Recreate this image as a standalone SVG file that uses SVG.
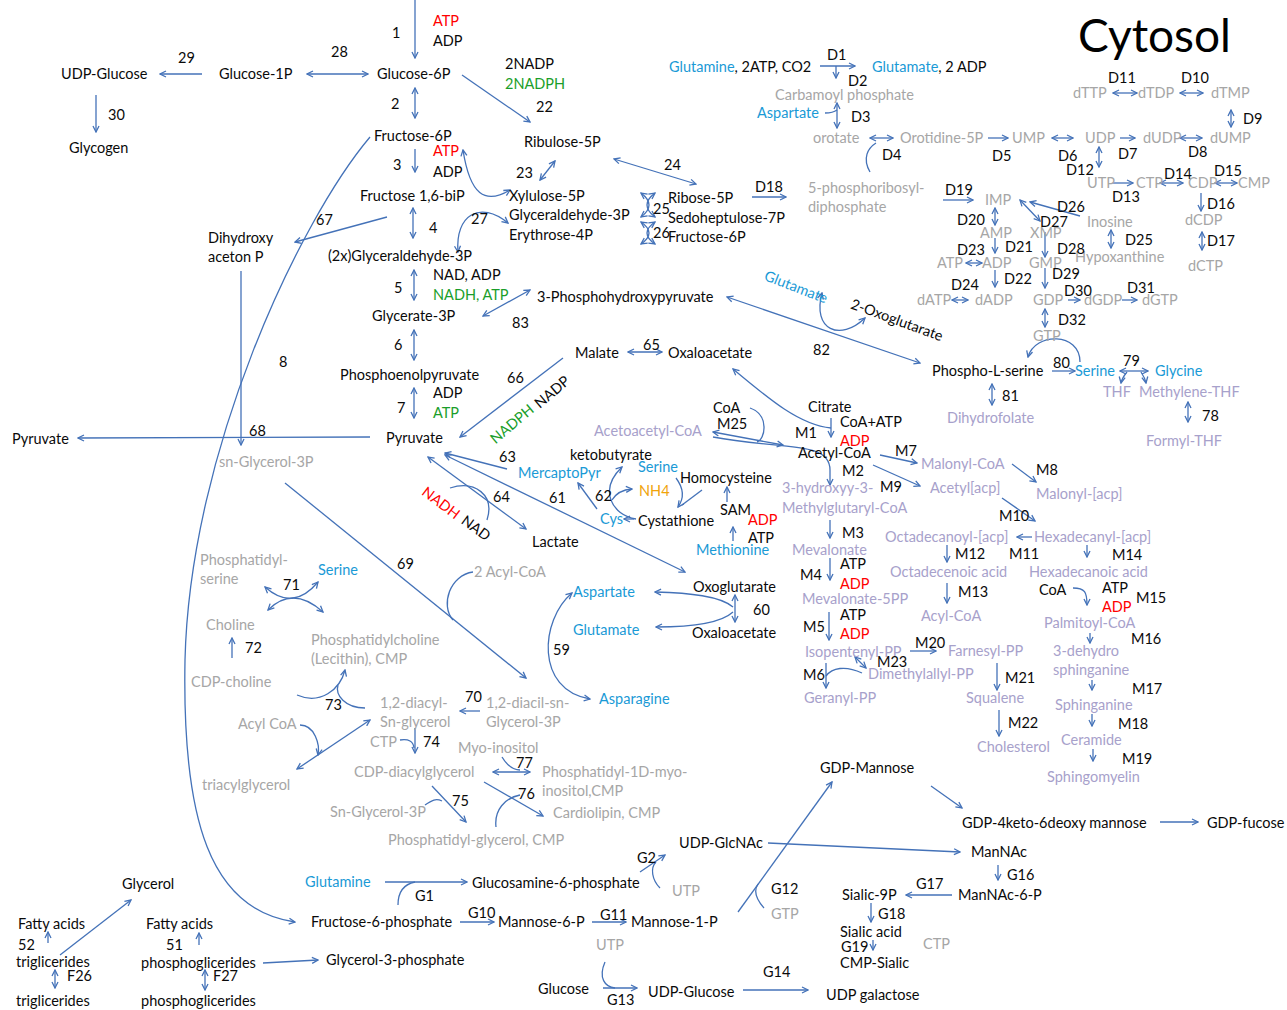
<svg xmlns="http://www.w3.org/2000/svg" width="1287" height="1010" viewBox="0 0 1287 1010">
<style>
text{font-family:Lato,"Liberation Sans",sans-serif;font-size:14.5px;fill:#0a0a0a}
.b{fill:#1a9ad6}.r{fill:#ff0000}.g{fill:#1a9e2a}.gr{fill:#a6a6a6}.l{fill:#a7a1cb}.o{fill:#f0a30a}
.title{font-size:46px;fill:#000}
#conn path{fill:none;stroke:#4472b8;stroke-width:1.3}
.e{marker-end:url(#ah)}
.d{marker-end:url(#ah);marker-start:url(#ah)}
</style>
<defs>
<marker id="ah" viewBox="0 0 8 8" refX="7" refY="4" markerWidth="8" markerHeight="8" markerUnits="userSpaceOnUse" orient="auto-start-reverse"><path d="M1,1 L7,4 L1,7" fill="none" stroke="#4472b8" stroke-width="1.3"/></marker>
</defs>
<rect width="1287" height="1010" fill="#fff"/>
<g id="conn">
<path class="e" d="M415,0 L415,58"/>
<path class="d" d="M307,74 L368,74"/>
<path class="e" d="M202,74 L160,74"/>
<path class="e" d="M96,95 L96,132"/>
<path class="d" d="M415,88 L415,118"/>
<path class="e" d="M462,75 L530,122"/>
<path class="e" d="M415,149 L415,172"/>
<path class="d" d="M413,208 L413,238"/>
<path class="d" d="M414,270 L414,300"/>
<path class="d" d="M414,330 L414,360"/>
<path class="d" d="M414,388 L414,418"/>
<path class="e" d="M370,437 L78,438"/>
<path class="e" d="M241,271 L241,445"/>
<path class="e" d="M387,217 L295,242"/>
<path class="e" d="M370,137 C300,220 190,450 185,660 C182,820 210,910 295,922"/>
<path class="d" d="M540,180 L555,161"/>
<path class="d" d="M614,159 L696,184"/>
<path class="d" d="M463,150 C470,195 485,205 510,190"/>
<path class="d" d="M458,252 C455,215 480,200 508,223"/>
<path class="d" d="M641,193 Q657,205 641,217"/>
<path class="d" d="M655,193 Q639,205 655,217"/>
<path class="d" d="M641,222 Q657,233 641,244"/>
<path class="d" d="M655,222 Q639,233 655,244"/>
<path class="e" d="M752,197 L786,197"/>
<path class="d" d="M483,316 L530,290"/>
<path class="d" d="M727,297 L920,363"/>
<path class="d" d="M822,293 C812,330 840,342 865,318"/>
<path class="d" d="M628,352 L662,352"/>
<path class="e" d="M563,358 L460,437"/>
<path class="e" d="M507,469 L445,453"/>
<path class="d" d="M428,457 L526,529"/>
<path d="M450,488 C475,480 495,495 487,520"/>
<path class="d" d="M445,455 L685,572"/>
<path class="e" d="M597,509 L578,483"/>
<path class="e" d="M636,519 C612,515 598,490 622,467"/>
<path class="e" d="M612,500 Q618,490 632,489"/>
<path class="e" d="M634,519 L624,519"/>
<path class="e" d="M676,478 C685,490 683,500 678,507"/>
<path d="M702,490 L682,505"/>
<path class="e" d="M727,502 L727,487"/>
<path class="e" d="M733,541 L733,527"/>
<path class="d" d="M713,432 L783,445"/>
<path d="M750,408 C770,415 765,440 757,442"/>
<path class="e" d="M713,437 C780,450 830,440 830,470 L830,485"/>
<path class="e" d="M831,428 C800,425 770,400 733,369"/>
<path class="e" d="M831,418 L831,437"/>
<path class="e" d="M830,520 L830,538"/>
<path class="e" d="M830,558 L830,580"/>
<path class="e" d="M829,612 L829,640"/>
<path class="e" d="M826,663 L826,688"/>
<path d="M862,673 C845,665 832,668 826,676"/>
<path class="d" d="M855,657 L866,668"/>
<path class="e" d="M910,651 L936,651"/>
<path class="e" d="M997,663 L997,690"/>
<path class="e" d="M999,710 L999,736"/>
<path class="e" d="M880,455 L917,463"/>
<path class="e" d="M873,465 L920,486"/>
<path class="e" d="M1012,464 L1036,482"/>
<path class="e" d="M1002,498 L1035,521"/>
<path class="e" d="M1032,537 L1017,537"/>
<path class="e" d="M947,545 L947,562"/>
<path class="e" d="M947,583 L947,603"/>
<path class="e" d="M1087,545 L1087,557"/>
<path class="e" d="M1073,588 C1085,588 1087,592 1087,605"/>
<path class="e" d="M1090,633 L1090,643"/>
<path class="e" d="M1092,680 L1092,690"/>
<path class="e" d="M1092,714 L1092,726"/>
<path class="e" d="M1093,749 L1093,761"/>
<path class="d" d="M992,384 L992,405"/>
<path class="e" d="M1052,371 L1075,371"/>
<path class="e" d="M1080,362 C1080,332 1035,332 1028,357"/>
<path class="d" d="M1120,371 L1148,371"/>
<path class="e" d="M1127,372 Q1122,378 1121,383"/>
<path class="e" d="M1141,372 Q1145,378 1146,383"/>
<path class="d" d="M1188,402 L1188,422"/>
<path class="e" d="M820,66 L855,66"/>
<path class="e" d="M836,66 L836,78"/>
<path class="d" d="M837,103 L837,128"/>
<path d="M825,113 Q833,113 837,110"/>
<path class="d" d="M870,138 L893,138"/>
<path d="M870,172 C862,158 868,148 876,143"/>
<path class="e" d="M988,138 L1008,138"/>
<path class="d" d="M1052,138 L1073,138"/>
<path class="e" d="M1120,138 L1135,138"/>
<path class="d" d="M1180,138 L1202,138"/>
<path class="d" d="M1113,93 L1137,93"/>
<path class="d" d="M1180,93 L1203,93"/>
<path class="d" d="M1231,110 L1231,127"/>
<path class="d" d="M1099,147 L1099,167"/>
<path class="e" d="M1113,183 L1133,183"/>
<path class="d" d="M1160,183 L1183,183"/>
<path class="d" d="M1215,183 L1237,183"/>
<path class="e" d="M1201,193 L1201,211"/>
<path class="d" d="M1202,232 L1202,250"/>
<path class="e" d="M943,200 L973,200"/>
<path class="d" d="M995,208 L995,225"/>
<path class="e" d="M1080,216 L1030,202"/>
<path class="d" d="M1020,200 L1040,221"/>
<path class="d" d="M1111,230 L1111,248"/>
<path class="e" d="M995,238 L995,253"/>
<path class="e" d="M1045,232 L1045,257"/>
<path class="d" d="M966,263 L982,263"/>
<path class="e" d="M995,270 L995,287"/>
<path class="e" d="M1045,268 L1045,288"/>
<path class="d" d="M952,300 L968,300"/>
<path class="e" d="M1068,300 L1080,300"/>
<path class="e" d="M1122,300 L1137,300"/>
<path class="d" d="M1045,309 L1045,327"/>
<path class="e" d="M285,483 L526,678"/>
<path d="M473,572 C450,575 440,605 453,620"/>
<path class="d" d="M265,587 Q293,612 318,582"/>
<path class="d" d="M268,610 Q293,585 323,612"/>
<path class="e" d="M232,658 L232,638"/>
<path class="e" d="M297,695 C320,705 340,690 345,670"/>
<path d="M365,708 C345,708 335,695 338,685"/>
<path class="e" d="M480,711 L460,711"/>
<path class="d" d="M297,769 L370,720"/>
<path class="e" d="M300,725 C315,725 320,745 318,755"/>
<path class="e" d="M415,728 L415,753"/>
<path d="M400,740 Q413,738 414,748"/>
<path class="d" d="M493,772 L530,772"/>
<path d="M502,757 Q510,770 520,770"/>
<path class="e" d="M432,786 L466,822"/>
<path d="M425,805 C432,800 436,798 442,801"/>
<path class="e" d="M484,782 L543,816"/>
<path d="M496,827 C494,810 505,798 520,795"/>
<path class="d" d="M572,593 C540,620 535,690 590,699"/>
<path class="d" d="M735,595 L735,622"/>
<path class="e" d="M733,607 C720,596 690,593 655,592"/>
<path class="e" d="M733,612 C720,624 690,627 656,627"/>
<path class="e" d="M738,912 L832,782"/>
<path class="e" d="M768,843 L960,852"/>
<path class="e" d="M998,865 L998,880"/>
<path class="e" d="M952,895 L906,895"/>
<path class="e" d="M871,903 L871,922"/>
<path class="e" d="M873,940 L873,950"/>
<path class="e" d="M931,786 L962,808"/>
<path class="e" d="M1160,822 L1198,822"/>
<path class="e" d="M385,882 L467,882"/>
<path d="M398,905 C398,890 405,884 415,882"/>
<path class="e" d="M640,872 L665,855"/>
<path d="M660,888 C652,880 650,868 656,862"/>
<path class="e" d="M460,922 L494,922"/>
<path class="e" d="M592,922 L626,922"/>
<path d="M764,908 C755,898 754,890 758,884"/>
<path d="M605,962 C598,978 605,987 615,988"/>
<path class="e" d="M603,988 L637,988"/>
<path class="e" d="M743,990 L808,990"/>
<path class="e" d="M60,955 L131,900"/>
<path class="e" d="M48,943 L48,932"/>
<path class="d" d="M55,970 L55,988"/>
<path class="e" d="M199,945 L199,933"/>
<path class="d" d="M205,970 L205,990"/>
<path class="e" d="M263,963 L318,960"/>
</g>
<text class="title" x="1078" y="52">Cytosol</text>
<g id="glc6p"><text x="377" y="79">Glucose-6P</text></g>
<g id="glc1p"><text x="219" y="79">Glucose-1P</text></g>
<g id="udpglc"><text x="61" y="79">UDP-Glucose</text></g>
<g id="glycogen"><text x="69" y="153">Glycogen</text></g>
<g id="ribu5p"><text x="524" y="147">Ribulose-5P</text></g>
<g id="fru6p"><text x="374" y="141">Fructose-6P</text></g>
<g id="fbp"><text x="360" y="201">Fructose 1,6-biP</text></g>
<g id="gap"><text x="328" y="261">(2x)Glyceraldehyde-3P</text></g>
<g id="g3p"><text x="372" y="321">Glycerate-3P</text></g>
<g id="pep"><text x="340" y="380">Phosphoenolpyruvate</text></g>
<g id="pyr"><text x="386" y="443">Pyruvate</text></g>
<g id="pyr2"><text x="12" y="444">Pyruvate</text></g>
<g id="snglyc"><text class="gr" x="219" y="467">sn-Glycerol-3P</text></g>
<g id="dhap"><text x="208" y="243">Dihydroxy</text><text x="208" y="262">aceton P</text></g>
<g id="ppp1"><text x="509" y="201">Xylulose-5P</text><text x="509" y="220">Glyceraldehyde-3P</text><text x="509" y="240">Erythrose-4P</text></g>
<g id="ppp2"><text x="668" y="203">Ribose-5P</text><text x="668" y="223">Sedoheptulose-7P</text><text x="668" y="242">Fructose-6P</text></g>
<g id="prpp"><text class="gr" x="808" y="193">5-phosphoribosyl-</text><text class="gr" x="808" y="212">diphosphate</text></g>
<g id="glnin"><text x="669" y="72"><tspan class="b">Glutamine</tspan>, 2ATP, CO2</text></g>
<g id="gluout"><text x="872" y="72"><tspan class="b">Glutamate</tspan>, 2 ADP</text></g>
<g id="carb"><text class="gr" x="775" y="100">Carbamoyl phosphate</text></g>
<g id="asp1"><text class="b" x="757" y="118">Aspartate</text></g>
<g id="orot"><text class="gr" x="813" y="143">orotate</text></g>
<g id="omp"><text class="gr" x="900" y="143">Orotidine-5P</text></g>
<g id="ump"><text class="gr" x="1012" y="143">UMP</text></g>
<g id="udp"><text class="gr" x="1085" y="143">UDP</text></g>
<g id="dudp"><text class="gr" x="1143" y="143">dUDP</text></g>
<g id="dump"><text class="gr" x="1210" y="143">dUMP</text></g>
<g id="dttp"><text class="gr" x="1073" y="98">dTTP</text></g>
<g id="dtdp"><text class="gr" x="1138" y="98">dTDP</text></g>
<g id="dtmp"><text class="gr" x="1211" y="98">dTMP</text></g>
<g id="utp"><text class="gr" x="1087" y="188">UTP</text></g>
<g id="ctp"><text class="gr" x="1136" y="188">CTP</text></g>
<g id="cdp"><text class="gr" x="1188" y="188">CDP</text></g>
<g id="cmp"><text class="gr" x="1238" y="188">CMP</text></g>
<g id="dcdp"><text class="gr" x="1185" y="225">dCDP</text></g>
<g id="dctp"><text class="gr" x="1188" y="271">dCTP</text></g>
<g id="imp"><text class="gr" x="985" y="205">IMP</text></g>
<g id="amp"><text class="gr" x="980" y="238">AMP</text></g>
<g id="xmp"><text class="gr" x="1030" y="238">XMP</text></g>
<g id="inosine"><text class="gr" x="1087" y="227">Inosine</text></g>
<g id="hypox"><text class="gr" x="1075" y="262">Hypoxanthine</text></g>
<g id="atp2"><text class="gr" x="937" y="268">ATP</text></g>
<g id="adp2"><text class="gr" x="982" y="268">ADP</text></g>
<g id="gmp"><text class="gr" x="1029" y="268">GMP</text></g>
<g id="datp"><text class="gr" x="917" y="305">dATP</text></g>
<g id="dadp"><text class="gr" x="975" y="305">dADP</text></g>
<g id="gdp"><text class="gr" x="1033" y="305">GDP</text></g>
<g id="dgdp"><text class="gr" x="1084" y="305">dGDP</text></g>
<g id="dgtp"><text class="gr" x="1142" y="305">dGTP</text></g>
<g id="gtp"><text class="gr" x="1033" y="341">GTP</text></g>
<g id="php"><text x="537" y="302">3-Phosphohydroxypyruvate</text></g>
<g id="glu2"><text class="b" transform="translate(796,287) rotate(21)" text-anchor="middle" dy="5">Glutamate</text></g>
<g id="oxog"><text transform="translate(897,320) rotate(20)" text-anchor="middle" dy="5">2-Oxoglutarate</text></g>
<g id="pser"><text x="932" y="376">Phospho-L-serine</text></g>
<g id="ser1"><text class="b" x="1075" y="376">Serine</text></g>
<g id="gly"><text class="b" x="1155" y="376">Glycine</text></g>
<g id="thf"><text class="l" x="1103" y="397">THF</text></g>
<g id="mthf"><text class="l" x="1139" y="397">Methylene-THF</text></g>
<g id="dhf"><text class="l" x="947" y="423">Dihydrofolate</text></g>
<g id="fthf"><text class="l" x="1146" y="446">Formyl-THF</text></g>
<g id="malate"><text x="575" y="358">Malate</text></g>
<g id="oaa1"><text x="668" y="358">Oxaloacetate</text></g>
<g id="lactate"><text x="532" y="547">Lactate</text></g>
<g id="mercapto"><text class="b" x="518" y="478">MercaptoPyr</text></g>
<g id="ketob"><text x="570" y="460">ketobutyrate</text></g>
<g id="ser2"><text class="b" x="638" y="472">Serine</text></g>
<g id="nh4"><text class="o" x="639" y="496">NH4</text></g>
<g id="hcys"><text x="680" y="483">Homocysteine</text></g>
<g id="cys"><text class="b" x="600" y="524">Cys</text></g>
<g id="cysta"><text x="638" y="526">Cystathione</text></g>
<g id="sam"><text x="720" y="515">SAM</text></g>
<g id="met"><text class="b" x="696" y="555">Methionine</text></g>
<g id="acacoa"><text class="l" x="594" y="436">Acetoacetyl-CoA</text></g>
<g id="coa1"><text x="713" y="413">CoA</text></g>
<g id="citrate"><text x="808" y="412">Citrate</text></g>
<g id="accoa"><text x="798" y="458">Acetyl-CoA</text></g>
<g id="hmg"><text class="l" x="782" y="493">3-hydroxyy-3-</text><text class="l" x="782" y="513">Methylglutaryl-CoA</text></g>
<g id="meva"><text class="l" x="792" y="555">Mevalonate</text></g>
<g id="meva5pp"><text class="l" x="802" y="604">Mevalonate-5PP</text></g>
<g id="ipp"><text class="l" x="805" y="657">Isopentenyl-PP</text></g>
<g id="dmapp"><text class="l" x="868" y="679">Dimethylallyl-PP</text></g>
<g id="gpp"><text class="l" x="804" y="703">Geranyl-PP</text></g>
<g id="fpp"><text class="l" x="948" y="656">Farnesyl-PP</text></g>
<g id="squal"><text class="l" x="966" y="703">Squalene</text></g>
<g id="chol"><text class="l" x="977" y="752">Cholesterol</text></g>
<g id="malcoa"><text class="l" x="921" y="469">Malonyl-CoA</text></g>
<g id="acacp"><text class="l" x="930" y="493">Acetyl[acp]</text></g>
<g id="malacp"><text class="l" x="1036" y="499">Malonyl-[acp]</text></g>
<g id="octacp"><text class="l" x="885" y="542">Octadecanoyl-[acp]</text></g>
<g id="hexacp"><text class="l" x="1034" y="542">Hexadecanyl-[acp]</text></g>
<g id="octac"><text class="l" x="890" y="577">Octadecenoic acid</text></g>
<g id="hexac"><text class="l" x="1029" y="577">Hexadecanoic acid</text></g>
<g id="acylcoa"><text class="l" x="921" y="621">Acyl-CoA</text></g>
<g id="coa2"><text x="1039" y="595">CoA</text></g>
<g id="palm"><text class="l" x="1044" y="628">Palmitoyl-CoA</text></g>
<g id="dhsph"><text class="l" x="1053" y="656">3-dehydro</text><text class="l" x="1053" y="675">sphinganine</text></g>
<g id="sph"><text class="l" x="1055" y="710">Sphinganine</text></g>
<g id="cer"><text class="l" x="1061" y="745">Ceramide</text></g>
<g id="sphm"><text class="l" x="1047" y="782">Sphingomyelin</text></g>
<g id="pser2"><text class="gr" x="200" y="565">Phosphatidyl-</text><text class="gr" x="200" y="584">serine</text></g>
<g id="ser3"><text class="b" x="318" y="575">Serine</text></g>
<g id="choline"><text class="gr" x="206" y="630">Choline</text></g>
<g id="cdpchol"><text class="gr" x="191" y="687">CDP-choline</text></g>
<g id="pc"><text class="gr" x="311" y="645">Phosphatidylcholine</text><text class="gr" x="311" y="664">(Lecithin), CMP</text></g>
<g id="dag"><text class="gr" x="380" y="708">1,2-diacyl-</text><text class="gr" x="380" y="727">Sn-glycerol</text></g>
<g id="pa"><text class="gr" x="486" y="708">1,2-diacil-sn-</text><text class="gr" x="486" y="727">Glycerol-3P</text></g>
<g id="acylcoa2"><text class="gr" x="238" y="729">Acyl CoA</text></g>
<g id="tag"><text class="gr" x="202" y="790">triacylglycerol</text></g>
<g id="ctp2"><text class="gr" x="370" y="747">CTP</text></g>
<g id="cdpdag"><text class="gr" x="354" y="777">CDP-diacylglycerol</text></g>
<g id="myo"><text class="gr" x="458" y="753">Myo-inositol</text></g>
<g id="pi"><text class="gr" x="542" y="777">Phosphatidyl-1D-myo-</text><text class="gr" x="542" y="796">inositol,CMP</text></g>
<g id="sng3p"><text class="gr" x="330" y="817">Sn-Glycerol-3P</text></g>
<g id="cardio"><text class="gr" x="553" y="818">Cardiolipin, CMP</text></g>
<g id="pg"><text class="gr" x="388" y="845">Phosphatidyl-glycerol, CMP</text></g>
<g id="acyl2"><text class="gr" x="474" y="577">2 Acyl-CoA</text></g>
<g id="asp2"><text class="b" x="573" y="597">Aspartate</text></g>
<g id="oxo2"><text x="693" y="592">Oxoglutarate</text></g>
<g id="glu3"><text class="b" x="573" y="635">Glutamate</text></g>
<g id="oaa2"><text x="692" y="638">Oxaloacetate</text></g>
<g id="asn"><text class="b" x="599" y="704">Asparagine</text></g>
<g id="gdpman"><text x="820" y="773">GDP-Mannose</text></g>
<g id="gdpketo"><text x="962" y="828">GDP-4keto-6deoxy mannose</text></g>
<g id="gdpfuc"><text x="1207" y="828">GDP-fucose</text></g>
<g id="mannac"><text x="971" y="857">ManNAc</text></g>
<g id="mannac6p"><text x="958" y="900">ManNAc-6-P</text></g>
<g id="sia9p"><text x="842" y="900">Sialic-9P</text></g>
<g id="sia"><text x="840" y="937">Sialic acid</text></g>
<g id="cmpsia"><text x="840" y="968">CMP-Sialic</text></g>
<g id="ctp3"><text class="gr" x="923" y="949">CTP</text></g>
<g id="udpgal"><text x="826" y="1000">UDP galactose</text></g>
<g id="udpglcnac"><text x="679" y="848">UDP-GlcNAc</text></g>
<g id="gln2"><text class="b" x="305" y="887">Glutamine</text></g>
<g id="glcn6p"><text x="472" y="888">Glucosamine-6-phosphate</text></g>
<g id="utp2"><text class="gr" x="672" y="896">UTP</text></g>
<g id="f6p2"><text x="311" y="927">Fructose-6-phosphate</text></g>
<g id="man6p"><text x="498" y="927">Mannose-6-P</text></g>
<g id="man1p"><text x="631" y="927">Mannose-1-P</text></g>
<g id="gtp2"><text class="gr" x="771" y="919">GTP</text></g>
<g id="utp3"><text class="gr" x="596" y="950">UTP</text></g>
<g id="glucose"><text x="538" y="994">Glucose</text></g>
<g id="udpglc2"><text x="648" y="997">UDP-Glucose</text></g>
<g id="glycerol"><text x="122" y="889">Glycerol</text></g>
<g id="fa1"><text x="18" y="929">Fatty acids</text></g>
<g id="tg1"><text x="16" y="967">triglicerides</text></g>
<g id="tg2"><text x="16" y="1006">triglicerides</text></g>
<g id="fa2"><text x="146" y="929">Fatty acids</text></g>
<g id="pg1"><text x="141" y="968">phosphoglicerides</text></g>
<g id="pg2"><text x="141" y="1006">phosphoglicerides</text></g>
<g id="gly3p"><text x="326" y="965">Glycerol-3-phosphate</text></g>
<g id="labels">
<text x="392" y="38">1</text>
<text class="r" x="433" y="26">ATP</text><text x="433" y="46">ADP</text>
<text x="331" y="57">28</text><text x="178" y="63">29</text><text x="108" y="120">30</text>
<text x="391" y="109">2</text>
<text x="505" y="69">2NADP</text><text class="g" x="505" y="89">2NADPH</text><text x="536" y="112">22</text>
<text x="393" y="170">3</text><text class="r" x="433" y="156">ATP</text><text x="433" y="177">ADP</text>
<text x="429" y="233">4</text>
<text x="433" y="280">NAD, ADP</text><text class="g" x="433" y="300">NADH, ATP</text><text x="394" y="293">5</text>
<text x="394" y="350">6</text>
<text x="433" y="398">ADP</text><text class="g" x="433" y="418">ATP</text><text x="397" y="413">7</text>
<text x="279" y="367">8</text><text x="249" y="436">68</text><text x="316" y="225">67</text>
<text x="516" y="178">23</text><text x="664" y="170">24</text><text x="471" y="224">27</text>
<text x="653" y="214">25</text><text x="653" y="238">26</text><text x="755" y="192">D18</text>
<text x="827" y="60">D1</text><text x="848" y="86">D2</text><text x="851" y="122">D3</text><text x="882" y="160">D4</text>
<text x="992" y="161">D5</text><text x="1058" y="161">D6</text><text x="1118" y="159">D7</text><text x="1188" y="157">D8</text>
<text x="1243" y="124">D9</text><text x="1181" y="83">D10</text><text x="1108" y="83">D11</text><text x="1066" y="175">D12</text>
<text x="1112" y="202">D13</text><text x="1164" y="179">D14</text><text x="1214" y="176">D15</text><text x="1207" y="209">D16</text>
<text x="1207" y="246">D17</text><text x="945" y="195">D19</text><text x="957" y="225">D20</text><text x="1005" y="252">D21</text>
<text x="1004" y="284">D22</text><text x="957" y="255">D23</text><text x="951" y="290">D24</text><text x="1125" y="245">D25</text>
<text x="1057" y="212">D26</text><text x="1040" y="227">D27</text><text x="1057" y="254">D28</text><text x="1052" y="279">D29</text>
<text x="1064" y="296">D30</text><text x="1127" y="293">D31</text><text x="1058" y="325">D32</text>
<text x="512" y="328">83</text><text x="813" y="355">82</text><text x="643" y="350">65</text><text x="507" y="383">66</text>
<text class="g" transform="translate(512,424) rotate(-40)" text-anchor="middle" dy="5">NADPH</text>
<text transform="translate(552,392) rotate(-40)" text-anchor="middle" dy="5">NADP</text>
<text class="r" transform="translate(441,503) rotate(37)" text-anchor="middle" dy="5">NADH</text>
<text transform="translate(476,528) rotate(36)" text-anchor="middle" dy="5">NAD</text>
<text x="1053" y="368">80</text><text x="1123" y="366">79</text><text x="1002" y="401">81</text><text x="1202" y="421">78</text>
<text x="499" y="462">63</text><text x="493" y="502">64</text><text x="549" y="503">61</text><text x="595" y="501">62</text>
<text class="r" x="748" y="525">ADP</text><text x="748" y="543">ATP</text>
<text x="717" y="429">M25</text>
<text x="840" y="427">CoA+ATP</text><text x="795" y="438">M1</text><text class="r" x="840" y="446">ADP</text>
<text x="842" y="476">M2</text><text x="895" y="456">M7</text><text x="880" y="492">M9</text><text x="842" y="538">M3</text>
<text x="840" y="569">ATP</text><text x="800" y="580">M4</text><text class="r" x="840" y="589">ADP</text>
<text x="840" y="620">ATP</text><text x="803" y="632">M5</text><text class="r" x="840" y="639">ADP</text>
<text x="877" y="667">M23</text><text x="803" y="680">M6</text><text x="915" y="648">M20</text>
<text x="1036" y="475">M8</text><text x="999" y="521">M10</text><text x="955" y="559">M12</text><text x="1009" y="559">M11</text>
<text x="1112" y="560">M14</text><text x="958" y="597">M13</text>
<text x="1102" y="593">ATP</text><text class="r" x="1102" y="612">ADP</text><text x="1136" y="603">M15</text>
<text x="1131" y="644">M16</text><text x="1005" y="683">M21</text><text x="1132" y="694">M17</text><text x="1008" y="728">M22</text>
<text x="1118" y="729">M18</text><text x="1122" y="764">M19</text>
<text x="397" y="569">69</text><text x="283" y="590">71</text><text x="245" y="653">72</text><text x="325" y="710">73</text>
<text x="465" y="702">70</text><text x="423" y="747">74</text><text x="516" y="768">77</text><text x="452" y="806">75</text><text x="518" y="799">76</text>
<text x="753" y="615">60</text><text x="553" y="655">59</text>
<text x="415" y="901">G1</text><text x="637" y="863">G2</text><text x="468" y="918">G10</text><text x="600" y="920">G11</text>
<text x="771" y="894">G12</text><text x="607" y="1005">G13</text><text x="763" y="977">G14</text><text x="1007" y="880">G16</text>
<text x="916" y="889">G17</text><text x="878" y="919">G18</text><text x="841" y="952">G19</text>
<text x="18" y="950">52</text><text x="67" y="981">F26</text><text x="166" y="950">51</text><text x="213" y="981">F27</text>
</g>
</svg>
